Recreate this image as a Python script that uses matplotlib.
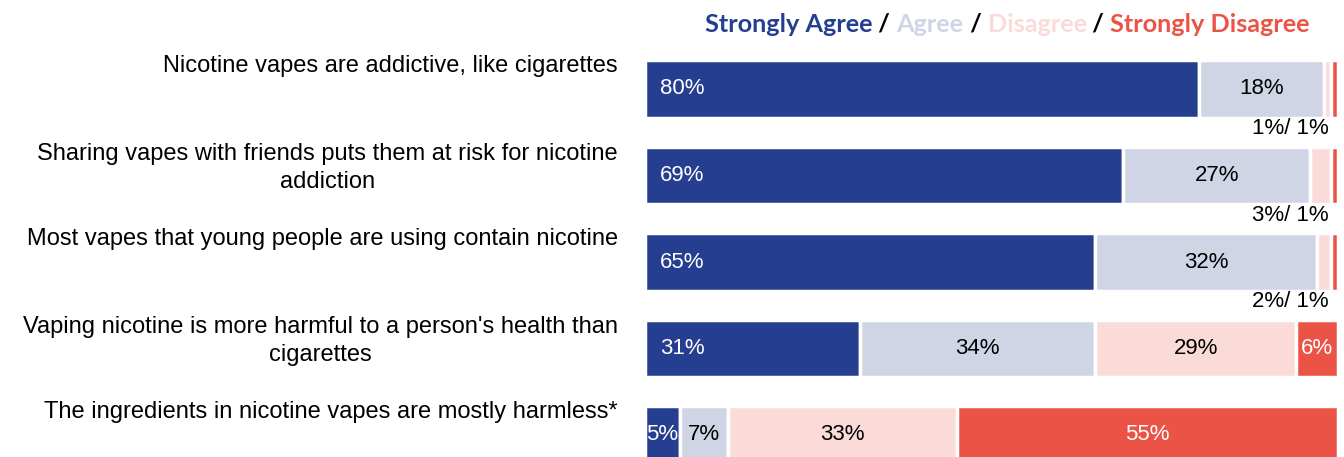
import numpy as np
import matplotlib.pyplot as plt

# survey statements and answer shares (%)
statements = [
    "Nicotine vapes are addictive, like cigarettes",
    "Sharing vapes with friends puts them at risk for nicotine\naddiction",
    "Most vapes that young people are using contain nicotine",
    "Vaping nicotine is more harmful to a person's health than\ncigarettes",
    "The ingredients in nicotine vapes are mostly harmless*",
]
strongly_agree = [80, 69, 65, 31, 5]
agree = [18, 27, 32, 34, 7]
disagree = [1, 3, 2, 29, 33]
strongly_disagree = [1, 1, 1, 6, 55]

answers = ["Strongly Agree", "Agree", "Disagree", "Strongly Disagree"]
colors = ["#253e8f", "#d0d5e6", "#fadbd8", "#ec5347"]
text_colors = ["white", "black", "black", "white"]

W, H = 1344, 457
fig = plt.figure(figsize=(W / 100, H / 100), dpi=100)
row_px = 86.5
first_px = 89
ax = fig.add_axes([645 / W, 0, 693 / W, 1])
ax.set_xlim(0, 100)
ax.set_ylim((H - first_px) / row_px, -first_px / row_px)
ax.axis("off")

pct_font = dict(fontsize=16, family="Liberation Sans")

series = [strongly_agree, agree, disagree, strongly_disagree]
y = np.arange(len(statements))
left = np.zeros(len(statements))
for k, vals in enumerate(series):
    vals = np.array(vals, dtype=float)
    ax.barh(y, vals, left=left, height=0.67, color=colors[k],
            edgecolor="white", linewidth=2.5)
    for i, v in enumerate(vals):
        if v < 5:
            continue
        if k == 0:
            pad = 2.2 if v > 10 else 0.2
            ax.text(left[i] + pad, y[i], f"{v:.0f}%", ha="left", va="center",
                    color=text_colors[k], **pct_font)
        else:
            ax.text(left[i] + v / 2, y[i], f"{v:.0f}%", ha="center", va="center",
                    color=text_colors[k], **pct_font)
    left += vals

# tiny disagree shares written under the bar
for i in range(len(statements)):
    if disagree[i] < 5 and strongly_disagree[i] < 5:
        ax.text(98.6, y[i] + 0.46, f"{disagree[i]}%/ {strongly_disagree[i]}%",
                ha="right", va="center", clip_on=False, **pct_font)

# statement labels (baseline of the last line)
line_px = 30
for i, s in enumerate(statements):
    n = s.count("\n")
    base = first_px + row_px * i - 17 + line_px * n
    fig.text(618 / W, 1 - base / H, s, ha="right", va="baseline",
             multialignment="center", fontsize=17, family="Liberation Sans",
             linespacing=1.4)

# coloured legend title
leg_font = dict(fontsize=18.2, fontweight="bold", family="Lato")
prev = fig.text(705 / W, 1 - 24 / H, answers[0], color=colors[0], va="center",
                **leg_font)
for k in range(1, 4):
    sep = ax.annotate(" / ", xy=(1, 0.5), xycoords=prev, va="center", ha="left",
                      color="black", annotation_clip=False, **leg_font)
    prev = ax.annotate(answers[k], xy=(1, 0.5), xycoords=sep, va="center", ha="left",
                       color=colors[k], annotation_clip=False, **leg_font)

fig.savefig("out.png", dpi=100)
